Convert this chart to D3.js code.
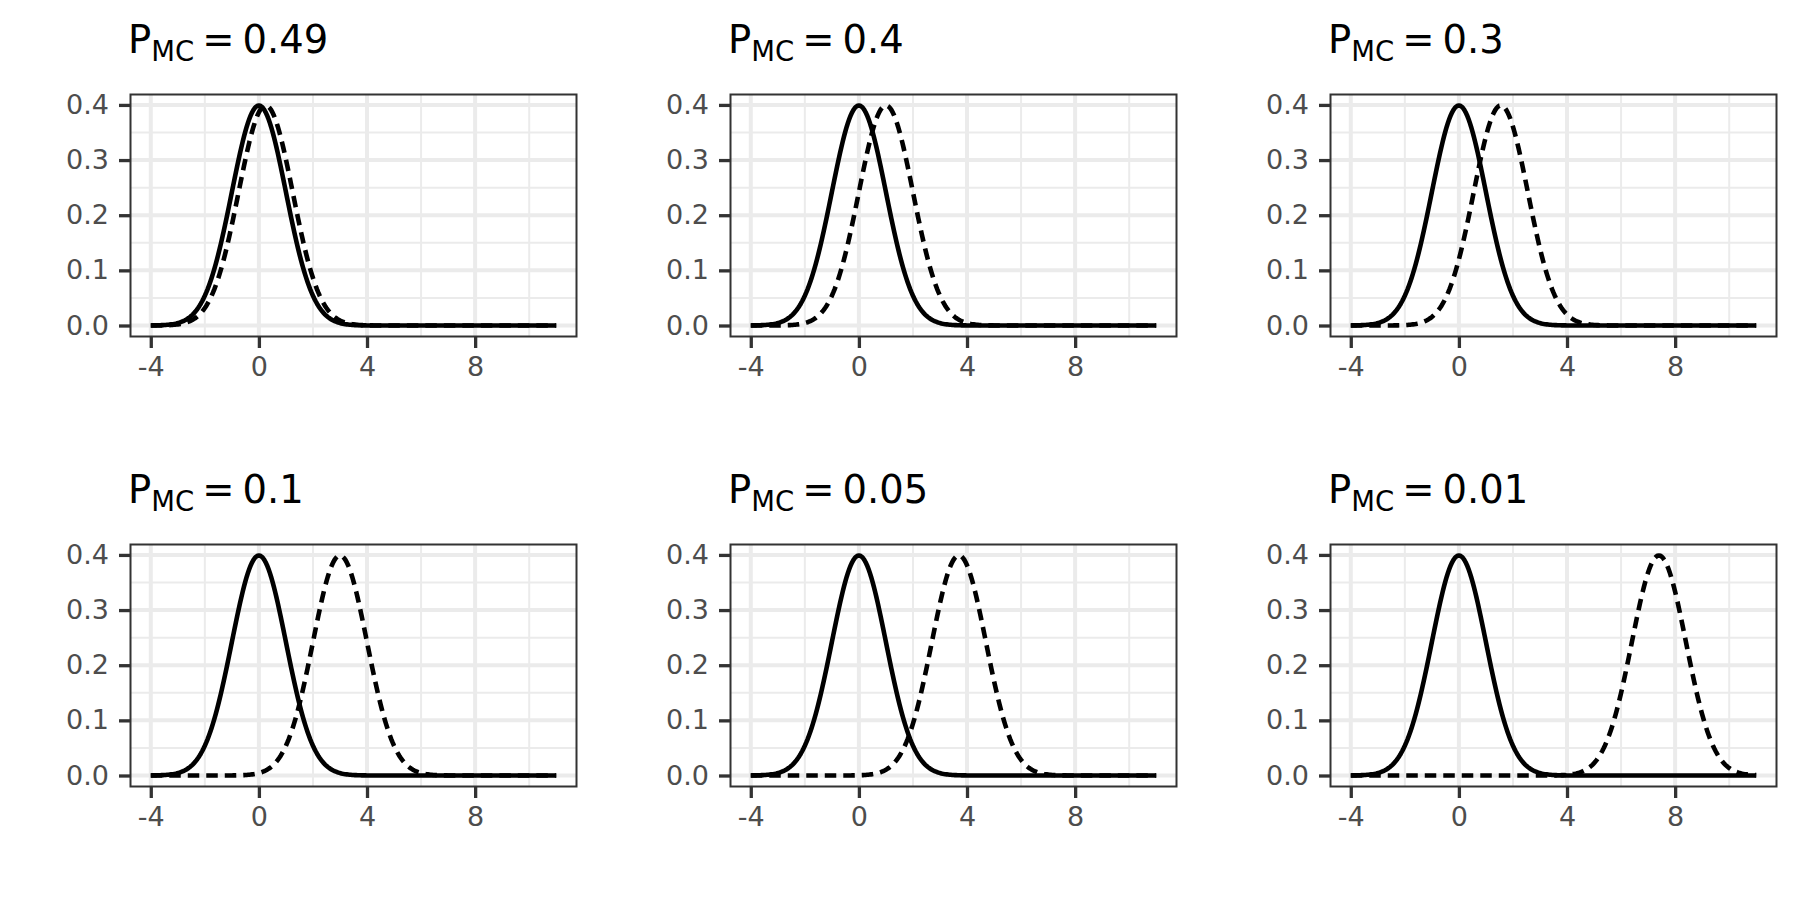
<!DOCTYPE html>
<html>
<head>
<meta charset="utf-8">
<script src="https://cdn.jsdelivr.net/npm/d3@7"></script>
<style>
  html, body { margin: 0; padding: 0; background: #fff; }
  svg { display: block; font-family: "DejaVu Sans", sans-serif; }
</style>
</head>
<body>
<div id="vis"></div>
<script>
// ── DATA ──────────────────────────────────────────────────────────────────────
const pmcLabels  = ["0.49", "0.4", "0.3", "0.1", "0.05", "0.01"];
const shiftMeans = [0.25, 1.0, 1.55, 3.0, 3.7, 7.4];   // mean of the dashed curve
const baseMean   = 0;
const sd         = 1;
const xSpan      = [-4, 11];
const xTicks     = [-4, 0, 4, 8];
const xMinor     = [-2, 2, 6, 10];
const yTicks     = [0, 0.1, 0.2, 0.3, 0.4];
const yMinor     = [0.05, 0.15, 0.25, 0.35];

// ── CONFIG ────────────────────────────────────────────────────────────────────
const width  = 1800;
const height = 900;
const cols   = 3;
const cellW  = 600;
const cellH  = 450;
const box    = { left: 130.5, right: 576.5, top: 94.5, bottom: 336.5 };
const nPts   = 301;

const svg = d3.select("#vis").append("svg")
    .attr("width", width)
    .attr("height", height)
    .attr("viewBox", [0, 0, width, height]);

svg.append("rect").attr("width", width).attr("height", height).attr("fill", "#fff");

const dnorm = (x, m) => Math.exp(-0.5 * ((x - m) / sd) ** 2) / (sd * Math.sqrt(2 * Math.PI));

// ggplot-style 5% expansion
const xPad = (xSpan[1] - xSpan[0]) * 0.05;
const yMax = dnorm(0, 0);
const yPad = yMax * 0.05;

const x = d3.scaleLinear([xSpan[0] - xPad, xSpan[1] + xPad], [box.left, box.right]);
const y = d3.scaleLinear([-yPad, yMax + yPad], [box.bottom, box.top]);

const xs = d3.range(nPts).map(i => xSpan[0] + (xSpan[1] - xSpan[0]) * i / (nPts - 1));
const line = d3.line().x(d => x(d[0])).y(d => y(d[1]));

pmcLabels.forEach((lab, i) => {
  const g = svg.append("g")
      .attr("transform", `translate(${(i % cols) * cellW},${Math.floor(i / cols) * cellH})`);

  // grid
  const grid = g.append("g").attr("fill", "none").attr("stroke", "#EBEBEB");
  grid.selectAll(".vmin").data(xMinor).join("line")
      .attr("x1", d => x(d)).attr("x2", d => x(d))
      .attr("y1", box.top).attr("y2", box.bottom).attr("stroke-width", 2);
  grid.selectAll(".hmin").data(yMinor).join("line")
      .attr("class", "hmin")
      .attr("x1", box.left).attr("x2", box.right)
      .attr("y1", d => y(d)).attr("y2", d => y(d)).attr("stroke-width", 2);
  grid.selectAll(".vmaj").data(xTicks).join("line")
      .attr("class", "vmaj")
      .attr("x1", d => x(d)).attr("x2", d => x(d))
      .attr("y1", box.top).attr("y2", box.bottom).attr("stroke-width", 4);
  grid.selectAll(".hmaj").data(yTicks).join("line")
      .attr("class", "hmaj")
      .attr("x1", box.left).attr("x2", box.right)
      .attr("y1", d => y(d)).attr("y2", d => y(d)).attr("stroke-width", 4);

  // curves: shifted (dashed) under the reference (solid)
  g.append("path")
      .datum(xs.map(v => [v, dnorm(v, shiftMeans[i])]))
      .attr("fill", "none").attr("stroke", "#000")
      .attr("stroke-width", 4.6).attr("stroke-dasharray", "11.5,7")
      .attr("d", line);
  g.append("path")
      .datum(xs.map(v => [v, dnorm(v, baseMean)]))
      .attr("fill", "none").attr("stroke", "#000")
      .attr("stroke-width", 4.6).attr("stroke-linejoin", "round")
      .attr("d", line);

  // panel border
  g.append("rect")
      .attr("x", box.left).attr("y", box.top)
      .attr("width", box.right - box.left).attr("height", box.bottom - box.top)
      .attr("fill", "none").attr("stroke", "#333333").attr("stroke-width", 2);

  // axes
  const ax = g.append("g")
      .attr("transform", `translate(0,${box.bottom})`)
      .call(d3.axisBottom(x).tickValues(xTicks).tickFormat(d => String(d))
        .tickSize(11.5).tickPadding(9));
  const ay = g.append("g")
      .attr("transform", `translate(${box.left},0)`)
      .call(d3.axisLeft(y).tickValues(yTicks).tickFormat(d3.format(".1f"))
        .tickSize(11.5).tickPadding(10));
  [ax, ay].forEach(a => {
    a.attr("font-family", null).attr("font-size", null);
    a.select(".domain").remove();
    a.selectAll(".tick line").attr("stroke", "#333333").attr("stroke-width", 3.3);
    a.selectAll(".tick text")
        .attr("fill", "#4D4D4D")
        .attr("font-family", "DejaVu Sans")
        .attr("font-size", 27);
  });

  // title: P_MC = value
  const t = g.append("text")
      .attr("x", box.left - 2.5).attr("y", 53.3)
      .attr("fill", "#000")
      .attr("font-size", 38.5);
  t.append("tspan").text("P");
  t.append("tspan").attr("dy", 8).attr("font-size", 27.5).text("MC");
  t.append("tspan").attr("dy", -8).attr("dx", 8).text("=");
  t.append("tspan").attr("dx", 8).text(lab);
});
</script>
</body>
</html>
